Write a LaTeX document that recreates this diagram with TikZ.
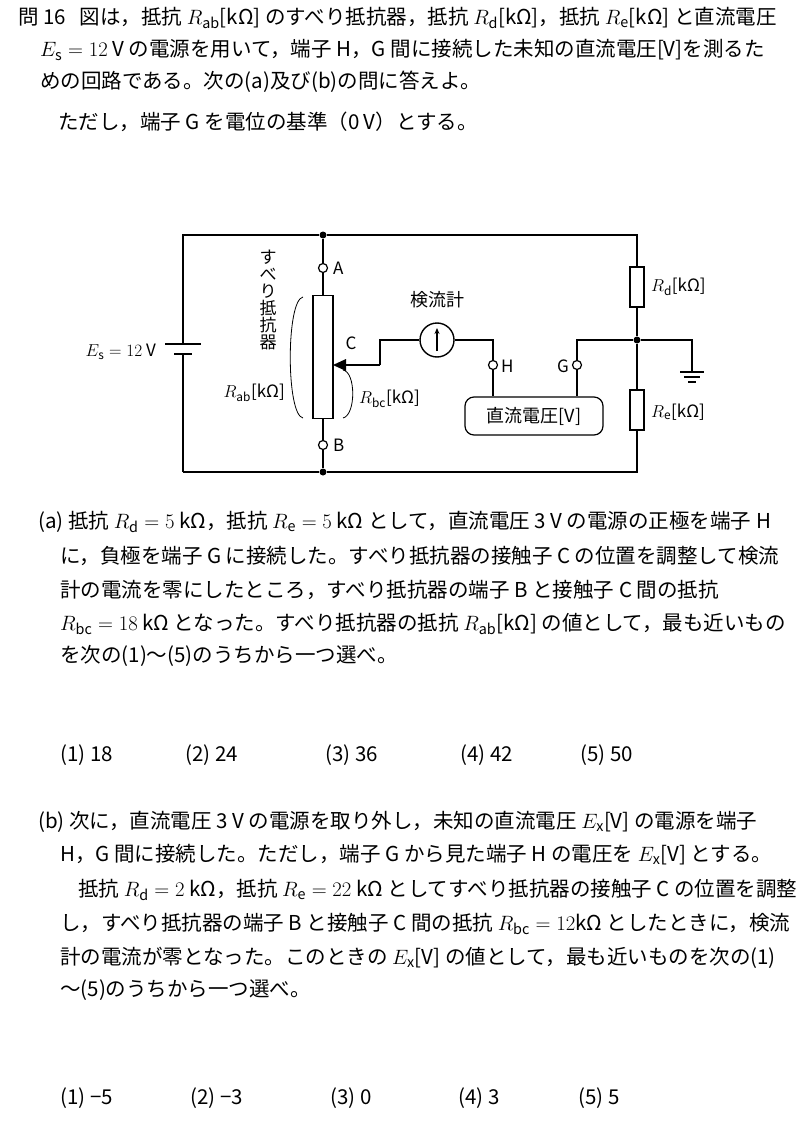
\documentclass[tikz,border=0pt]{standalone}
\usepackage{fontspec}
\setmainfont{Noto Sans CJK JP}
\usetikzlibrary{arrows.meta}
\begin{document}
\begin{tikzpicture}[x=1pt,y=-1pt,
  txt/.style={anchor=west,inner sep=0pt,font=\fontsize{20.5}{22}\selectfont},
  lbl/.style={inner sep=1pt,font=\fontsize{17}{19}\selectfont},
  wire/.style={line width=1.4pt},
  term/.style={circle,draw,line width=1.2pt,fill=white,minimum size=9pt,inner sep=0pt},
  dot/.style={circle,fill,minimum size=7pt,inner sep=0pt},
  res/.style={draw,line width=1.2pt,fill=white,minimum width=14pt,minimum height=40pt,inner sep=0pt}]
\useasboundingbox (0,0) rectangle (797,1126);
% ---- text
\node[txt] (t1) at (18,18) {問 16\ \ \ 図は，抵抗 $R_{\mathrm{ab}}$[kΩ] のすべり抵抗器，抵抗 $R_{\mathrm{d}}$[kΩ]，抵抗 $R_{\mathrm{e}}$[kΩ] と直流電圧};
\node[txt] (t2) at (40,50) {$E_{\mathrm{s}}=12$ V の電源を用いて，端子 H，G 間に接続した未知の直流電圧[V]を測るた};
\node[txt] (t3) at (40,82) {めの回路である。次の(a)及び(b)の問に答えよ。};
\node[txt] (t4) at (58,122) {ただし，端子 G を電位の基準（0 V）とする。};
\node[txt] (a1) at (38,522) {(a) 抵抗 $R_{\mathrm{d}}=5$ kΩ，抵抗 $R_{\mathrm{e}}=5$ kΩ として，直流電圧 3 V の電源の正極を端子 H};
\node[txt] (a2) at (60,556) {に，負極を端子 G に接続した。すべり抵抗器の接触子 C の位置を調整して検流};
\node[txt] (a3) at (60,590) {計の電流を零にしたところ，すべり抵抗器の端子 B と接触子 C 間の抵抗};
\node[txt] (a4) at (60,624) {$R_{\mathrm{bc}}=18$ kΩ となった。すべり抵抗器の抵抗 $R_{\mathrm{ab}}$[kΩ] の値として，最も近いもの};
\node[txt] (a5) at (60,656) {を次の(1)〜(5)のうちから一つ選べ。};
\node[txt] (ac1) at (60,755) {(1) 18};
\node[txt] (ac2) at (185,755) {(2) 24};
\node[txt] (ac3) at (325,755) {(3) 36};
\node[txt] (ac4) at (460,755) {(4) 42};
\node[txt] (ac5) at (580,755) {(5) 50};
\node[txt] (b1) at (38,822) {(b) 次に，直流電圧 3 V の電源を取り外し，未知の直流電圧 $E_{\mathrm{x}}$[V] の電源を端子};
\node[txt] (b2) at (60,855) {H，G 間に接続した。ただし，端子 G から見た端子 H の電圧を $E_{\mathrm{x}}$[V] とする。};
\node[txt] (b3) at (78,890) {抵抗 $R_{\mathrm{d}}=2$ kΩ，抵抗 $R_{\mathrm{e}}=22$ kΩ としてすべり抵抗器の接触子 C の位置を調整};
\node[txt] (b4) at (60,924) {し，すべり抵抗器の端子 B と接触子 C 間の抵抗 $R_{\mathrm{bc}}=12$kΩ としたときに，検流};
\node[txt] (b5) at (60,958) {計の電流が零となった。このときの $E_{\mathrm{x}}$[V] の値として，最も近いものを次の(1)};
\node[txt] (b6) at (60,990) {〜(5)のうちから一つ選べ。};
\node[txt] (bc1) at (60,1098) {(1) −5};
\node[txt] (bc2) at (190,1098) {(2) −3};
\node[txt] (bc3) at (330,1098) {(3) 0};
\node[txt] (bc4) at (458,1098) {(4) 3};
\node[txt] (bc5) at (578,1098) {(5) 5};
% ---- circuit
\coordinate (TL) at (183,235); \coordinate (TR) at (637,235);
\coordinate (BL) at (183,472); \coordinate (BR) at (637,472);
\node[dot] (jt) at (323,235) {};
\node[dot] (jb) at (323,472) {};
\node[term] (A) at (323,268) {};
\node[term] (B) at (323,445) {};
\node[draw,line width=1.2pt,minimum width=20pt,minimum height=123pt,inner sep=0pt] (pot) at (323,357) {};
\node[res] (Rd) at (637,287) {};
\node[res] (Re) at (637,410) {};
\node[dot] (jr) at (637,340) {};
\node[circle,draw,line width=1.4pt,minimum size=34pt,inner sep=0pt] (gal) at (437,340) {};
\node[term] (H) at (493,365) {};
\node[term] (G) at (577,365) {};
\node[draw,line width=1.2pt,rounded corners=9pt,minimum width=138pt,minimum height=38pt,font=\fontsize{18}{20}\selectfont] (dc) at (534,416) {直流電圧[V]};
\coordinate (C) at (333,365);
\coordinate (gnd) at (692,372);
\draw[wire] (BL) -- (TL) -- (jt) -- (TR) -- (Rd.north);
\draw[wire] (BL) -- (jb) -- (BR) -- (Re.south);
\draw[wire] (Rd.south) -- (jr) -- (Re.north);
\draw[wire] (jt) -- (A) -- (pot.north);
\draw[wire] (pot.south) -- (B) -- (jb);
% battery
\fill[white] (165,340) rectangle (201,360);
\draw[wire] (165,344) -- (201,344);
\draw[wire] (174,354) -- (192,354);
\draw[wire] (183,235) -- (183,344);
\draw[wire] (183,354) -- (183,472);
% wiper
\draw[wire] (380,365) -- (345,365);
\fill (C) -- (346,359) -- (346,371) -- cycle;
\draw[wire] (380,365) -- (380,340) -- (gal.west);
\draw[wire] (gal.east) -- (493,340) -- (H.north);
\draw[wire] (H.south) -- (H|-dc.north);
\draw[wire] (G.south) -- (G|-dc.north);
\draw[wire] (G.north) -- (577,340) -- (jr);
\draw[line width=1.4pt,-{Stealth[length=6pt,width=5pt]}] (437,351) -- (437,328);
% ground
\draw[wire] (jr) -- (692,340) -- (gnd);
\draw[wire] (680,372) -- (704,372);
\draw[wire] (684,377) -- (700,377);
\draw[wire] (688,382) -- (696,382);
% brackets
\draw[line width=0.8pt] (303,297) .. controls (286,300) and (286,415) .. (303,418);
\draw[line width=0.8pt] (343,370) .. controls (356,372) and (356,415) .. (343,418);
% labels
\node[lbl,anchor=west] (lA) at (332,268) {A};
\node[lbl,anchor=west] (lB) at (332,445) {B};
\node[lbl] (lC) at (351,343) {C};
\node[lbl,anchor=west] (lH) at (500,366) {H};
\node[lbl,anchor=east] (lG) at (570,366) {G};
\node[lbl,font=\fontsize{18}{20}\selectfont] (lgal) at (437,300) {検流計};
\node[lbl,anchor=west] (lRd) at (650,287) {$R_{\mathrm{d}}$[kΩ]};
\node[lbl,anchor=west] (lRe) at (650,412) {$R_{\mathrm{e}}$[kΩ]};
\node[lbl,anchor=east] (lRab) at (286,393) {$R_{\mathrm{ab}}$[kΩ]};
\node[lbl,anchor=west] (lRbc) at (358,399) {$R_{\mathrm{bc}}$[kΩ]};
\node[lbl,anchor=east] (lEs) at (157,352) {$E_{\mathrm{s}}=12$ V};
\node[lbl,align=center,font=\fontsize{17}{17}\selectfont] (lsub) at (268,300) {す\\べ\\り\\抵\\抗\\器};
\end{tikzpicture}
\end{document}
